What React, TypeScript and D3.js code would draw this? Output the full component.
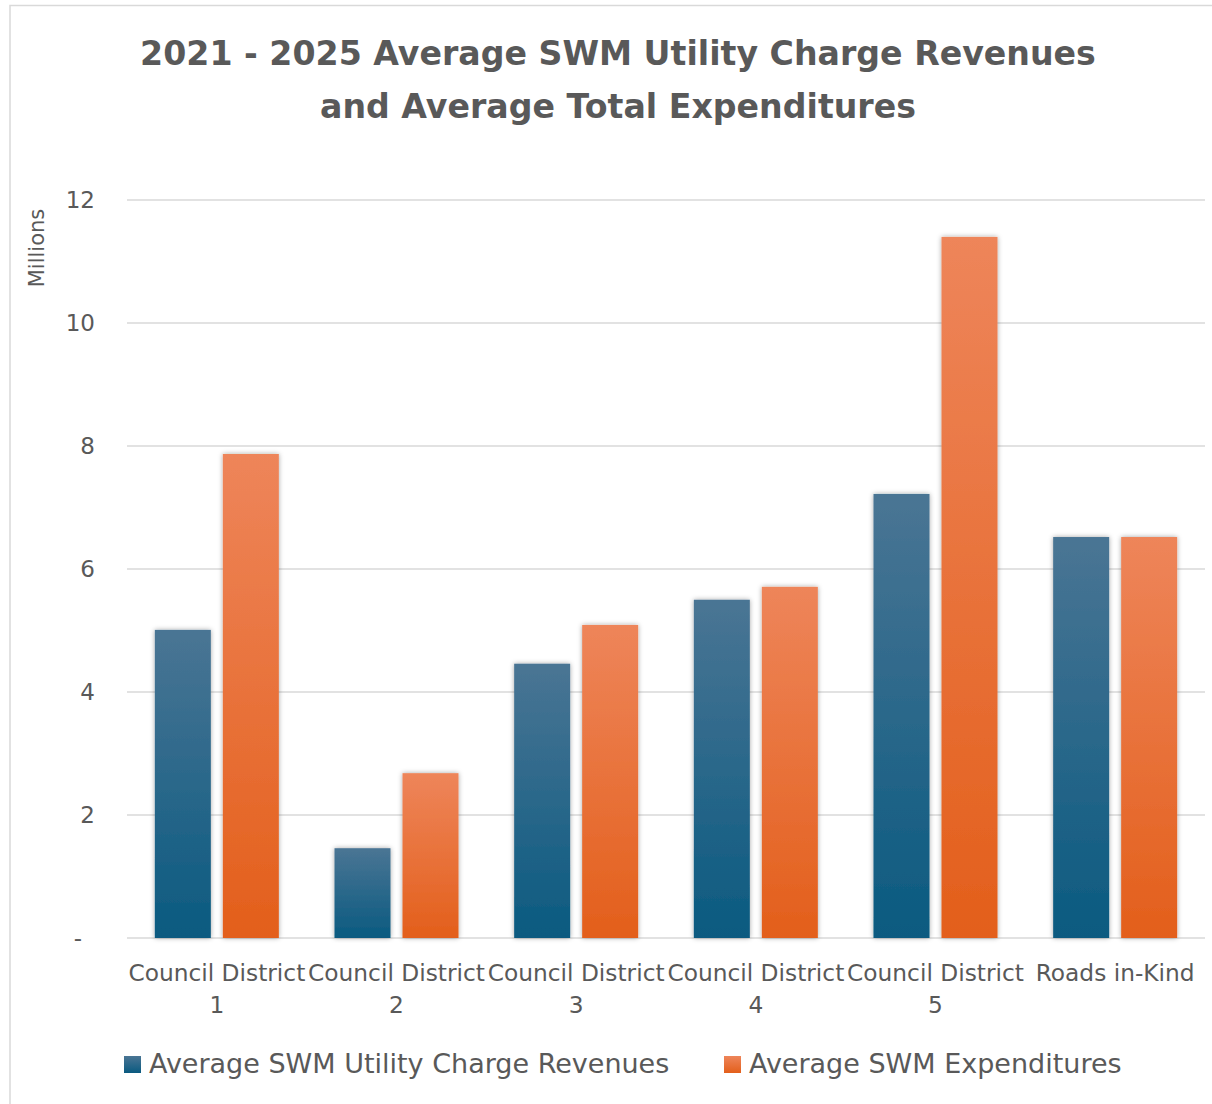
import React, { useEffect, useRef } from 'react';
import * as d3 from 'd3';

const categories = [
  ['Council District', '1'],
  ['Council District', '2'],
  ['Council District', '3'],
  ['Council District', '4'],
  ['Council District', '5'],
  ['Roads in-Kind'],
];
const revenues = [5.01, 1.46, 4.46, 5.5, 7.22, 6.52];
const expenditures = [7.87, 2.68, 5.09, 5.71, 11.4, 6.52];
const yTicks = [0, 2, 4, 6, 8, 10, 12];
const seriesNames = ['Average SWM Utility Charge Revenues', 'Average SWM Expenditures'];
const titleLines = ['2021 - 2025 Average SWM Utility Charge Revenues', 'and Average Total Expenditures'];

const FONT = '"DejaVu Sans", "Noto Sans", sans-serif';
const TEXT = '#595959';

export default function App() {
  const ref = useRef<SVGSVGElement>(null);

  useEffect(() => {
    document.body.style.margin = '0';
    const width = 1212;
    const height = 1104;
    const margin = { top: 200, left: 127, right: 7, bottom: 166 };
    const iwidth = width - margin.left - margin.right;
    const iheight = height - margin.top - margin.bottom;

    const svg = d3.select(ref.current);
    svg.selectAll('*').remove();

    const defs = svg.append('defs');
    const grad = (id: string, top: string, bottom: string) => {
      const lg = defs.append('linearGradient').attr('id', id).attr('x1', 0).attr('y1', 0).attr('x2', 0).attr('y2', 1);
      lg.append('stop').attr('offset', '0%').attr('stop-color', top);
      lg.append('stop').attr('offset', '100%').attr('stop-color', bottom);
    };
    grad('gBlue', '#4a7594', '#0a5a80');
    grad('gOrange', '#ee855a', '#e35f1b');
    const f = defs.append('filter').attr('id', 'shadow').attr('x', '-20%').attr('y', '-5%').attr('width', '140%').attr('height', '110%');
    f.append('feDropShadow').attr('dx', 0).attr('dy', 0).attr('stdDeviation', 2.5).attr('flood-color', '#000').attr('flood-opacity', 0.35);

    // frame
    svg.append('rect').attr('x', 10).attr('y', 5.5).attr('width', width + 10).attr('height', height + 10)
      .attr('fill', '#fff').attr('stroke', '#d9d9d9').attr('stroke-width', 1.5);

    // title
    svg.append('text')
      .attr('x', 618).attr('text-anchor', 'middle')
      .attr('font-family', FONT).attr('font-weight', 'bold').attr('font-size', 33.2).attr('fill', TEXT)
      .selectAll('tspan').data(titleLines).enter().append('tspan')
      .attr('x', 618).attr('y', (_, i) => 65 + i * 53).text(d => d);

    const g = svg.append('g').attr('transform', `translate(${margin.left},${margin.top})`);

    const y = d3.scaleLinear().domain([0, 12]).range([iheight, 0]);
    const x = d3.scaleBand<number>().domain(d3.range(categories.length)).range([0, iwidth]).paddingInner(0).paddingOuter(0);
    const bw = 56;
    const gap = 12;

    // gridlines
    g.append('g').selectAll('line').data(yTicks).enter().append('line')
      .attr('x1', 0).attr('x2', iwidth).attr('y1', d => y(d)).attr('y2', d => y(d))
      .attr('stroke', '#d9d9d9').attr('stroke-width', 1.5);

    // y tick labels
    g.append('g').selectAll('text').data(yTicks).enter().append('text')
      .attr('x', -32).attr('y', d => y(d)).attr('dy', '0.36em').attr('text-anchor', 'end')
      .attr('font-family', FONT).attr('font-size', 23).attr('fill', TEXT)
      .attr('dx', d => (d === 0 ? -13 : 0))
      .text(d => (d === 0 ? '-' : String(d)));

    svg.append('text')
      .attr('transform', 'translate(44,248) rotate(-90)').attr('text-anchor', 'middle')
      .attr('font-family', FONT).attr('font-size', 21).attr('fill', TEXT).text('Millions');

    const center = (i: number) => (x(i) as number) + x.bandwidth() / 2;

    const series = [
      { values: revenues, fill: 'url(#gBlue)', off: -gap / 2 - bw },
      { values: expenditures, fill: 'url(#gOrange)', off: gap / 2 },
    ];
    series.forEach(s => {
      g.append('g').selectAll('rect').data(s.values).enter().append('rect')
        .attr('x', (_, i) => center(i) + s.off)
        .attr('y', d => y(d))
        .attr('width', bw)
        .attr('height', d => iheight - y(d))
        .attr('fill', s.fill)
        .attr('filter', 'url(#shadow)');
    });

    // x labels
    const xl = g.append('g').selectAll('text').data(categories).enter().append('text')
      .attr('text-anchor', 'middle')
      .attr('font-family', FONT).attr('font-size', 23.3).attr('fill', TEXT);
    xl.each(function (d, i) {
      d3.select(this).selectAll('tspan').data(d).enter().append('tspan')
        .attr('x', center(i)).attr('y', (_, j) => iheight + 43 + j * 32).text(t => t);
    });

    // legend
    const legend = svg.append('g').attr('font-family', FONT).attr('font-size', 27).attr('fill', TEXT);
    const lx = [124, 724];
    const lfill = ['url(#gBlue)', 'url(#gOrange)'];
    seriesNames.forEach((n, i) => {
      legend.append('rect').attr('x', lx[i]).attr('y', 1056).attr('width', 17).attr('height', 17).attr('fill', lfill[i]);
      legend.append('text').attr('x', lx[i] + 25).attr('y', 1073).text(n);
    });
  }, []);

  return <svg ref={ref} width={1212} height={1104} style={{ display: 'block' }} />;
}
